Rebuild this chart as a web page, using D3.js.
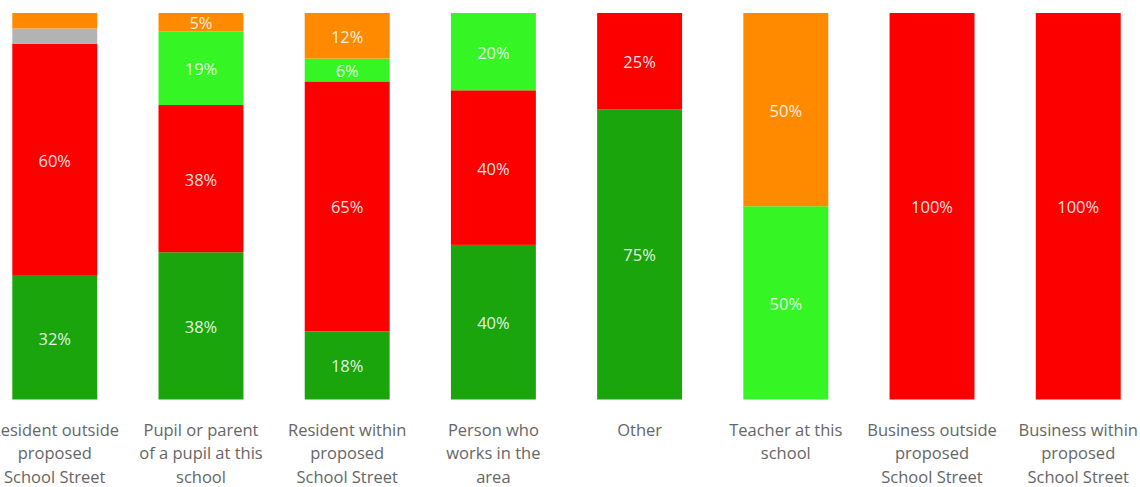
<!DOCTYPE html>
<html>
<head>
<meta charset="utf-8">
<script src="https://cdn.jsdelivr.net/npm/d3@7"></script>
<style>
  body { margin: 0; background: #fff; overflow: hidden; }
  svg { display: block; font-family: "Open Sans", "Noto Sans", sans-serif; }
</style>
</head>
<body>
<svg id="chart" width="1140" height="487"></svg>
<script>
// categories (respondent type)
let categories = [
  "Resident outside proposed School Street",
  "Pupil or parent of a pupil at this school",
  "Resident within proposed School Street",
  "Person who works in the area",
  "Other",
  "Teacher at this school",
  "Business outside proposed School Street",
  "Business within proposed School Street"
];

// wrapped tick labels
let tickLabels = [
  ["Resident outside", "proposed", "School Street"],
  ["Pupil or parent", "of a pupil at this", "school"],
  ["Resident within", "proposed", "School Street"],
  ["Person who", "works in the", "area"],
  ["Other"],
  ["Teacher at this", "school"],
  ["Business outside", "proposed", "School Street"],
  ["Business within", "proposed", "School Street"]
];

// series, bottom to top (percent of responses)
let seriesKeys = ["darkGreen", "red", "lightGreen", "grey", "orange"];
let darkGreen  = [32, 38.1, 17.6, 40, 75, 0, 0, 0];
let red        = [60, 38.1, 64.7, 40, 25, 0, 100, 100];
let lightGreen = [0, 19.0, 5.9, 20, 0, 50, 0, 0];
let grey       = [4, 0, 0, 0, 0, 0, 0, 0];
let orange     = [4, 4.8, 11.8, 0, 0, 50, 0, 0];

let colors = {
  darkGreen: "#19a50b",
  lightGreen: "#35f524",
  red: "#fc0000",
  grey: "#b3b3b3",
  orange: "#ff8a00"
};

// build rows for d3.stack
let rows = categories.map((c, i) => ({
  category: c,
  darkGreen: darkGreen[i],
  red: red[i],
  lightGreen: lightGreen[i],
  grey: grey[i],
  orange: orange[i]
}));

let svg = d3.select("#chart");

let x = d3.scaleBand()
  .domain(categories)
  .range([12.3, 1120.7])
  .paddingInner(0.419)
  .paddingOuter(0);

let y = d3.scaleLinear()
  .domain([0, 100])
  .range([399.5, 13]);

let stacked = d3.stack().keys(seriesKeys)(rows);

let layers = svg.selectAll("g.layer")
  .data(stacked)
  .enter()
  .append("g")
  .attr("class", "layer")
  .attr("fill", (d) => colors[d.key]);

layers.selectAll("rect")
  .data((d) => d)
  .enter()
  .append("rect")
  .attr("x", (d) => x(d.data.category))
  .attr("y", (d) => y(d[1]))
  .attr("width", x.bandwidth())
  .attr("height", (d) => y(d[0]) - y(d[1]));

// data labels inside segments
layers.selectAll("text")
  .data((d) => d.filter((s) => s[1] - s[0] >= 4.5))
  .enter()
  .append("text")
  .attr("x", (d) => x(d.data.category) + x.bandwidth() / 2)
  .attr("y", (d) => (y(d[0]) + y(d[1])) / 2)
  .attr("dy", "0.42em")
  .attr("text-anchor", "middle")
  .attr("fill", "#fff")
  .attr("fill-opacity", 0.9)
  .style("font-size", "16.5px")
  .text((d) => Math.round(d[1] - d[0]) + "%");

// category axis labels
let axis = svg.append("g");
categories.forEach((c, i) => {
  let t = axis.append("text")
    .attr("x", x(c) + x.bandwidth() / 2)
    .attr("y", 436)
    .attr("text-anchor", "middle")
    .attr("fill", "#666")
    .style("font-size", "16.5px");
  tickLabels[i].forEach((line, j) => {
    t.append("tspan")
      .attr("x", x(c) + x.bandwidth() / 2)
      .attr("dy", j === 0 ? 0 : 23.3)
      .text(line);
  });
});
</script>
</body>
</html>
